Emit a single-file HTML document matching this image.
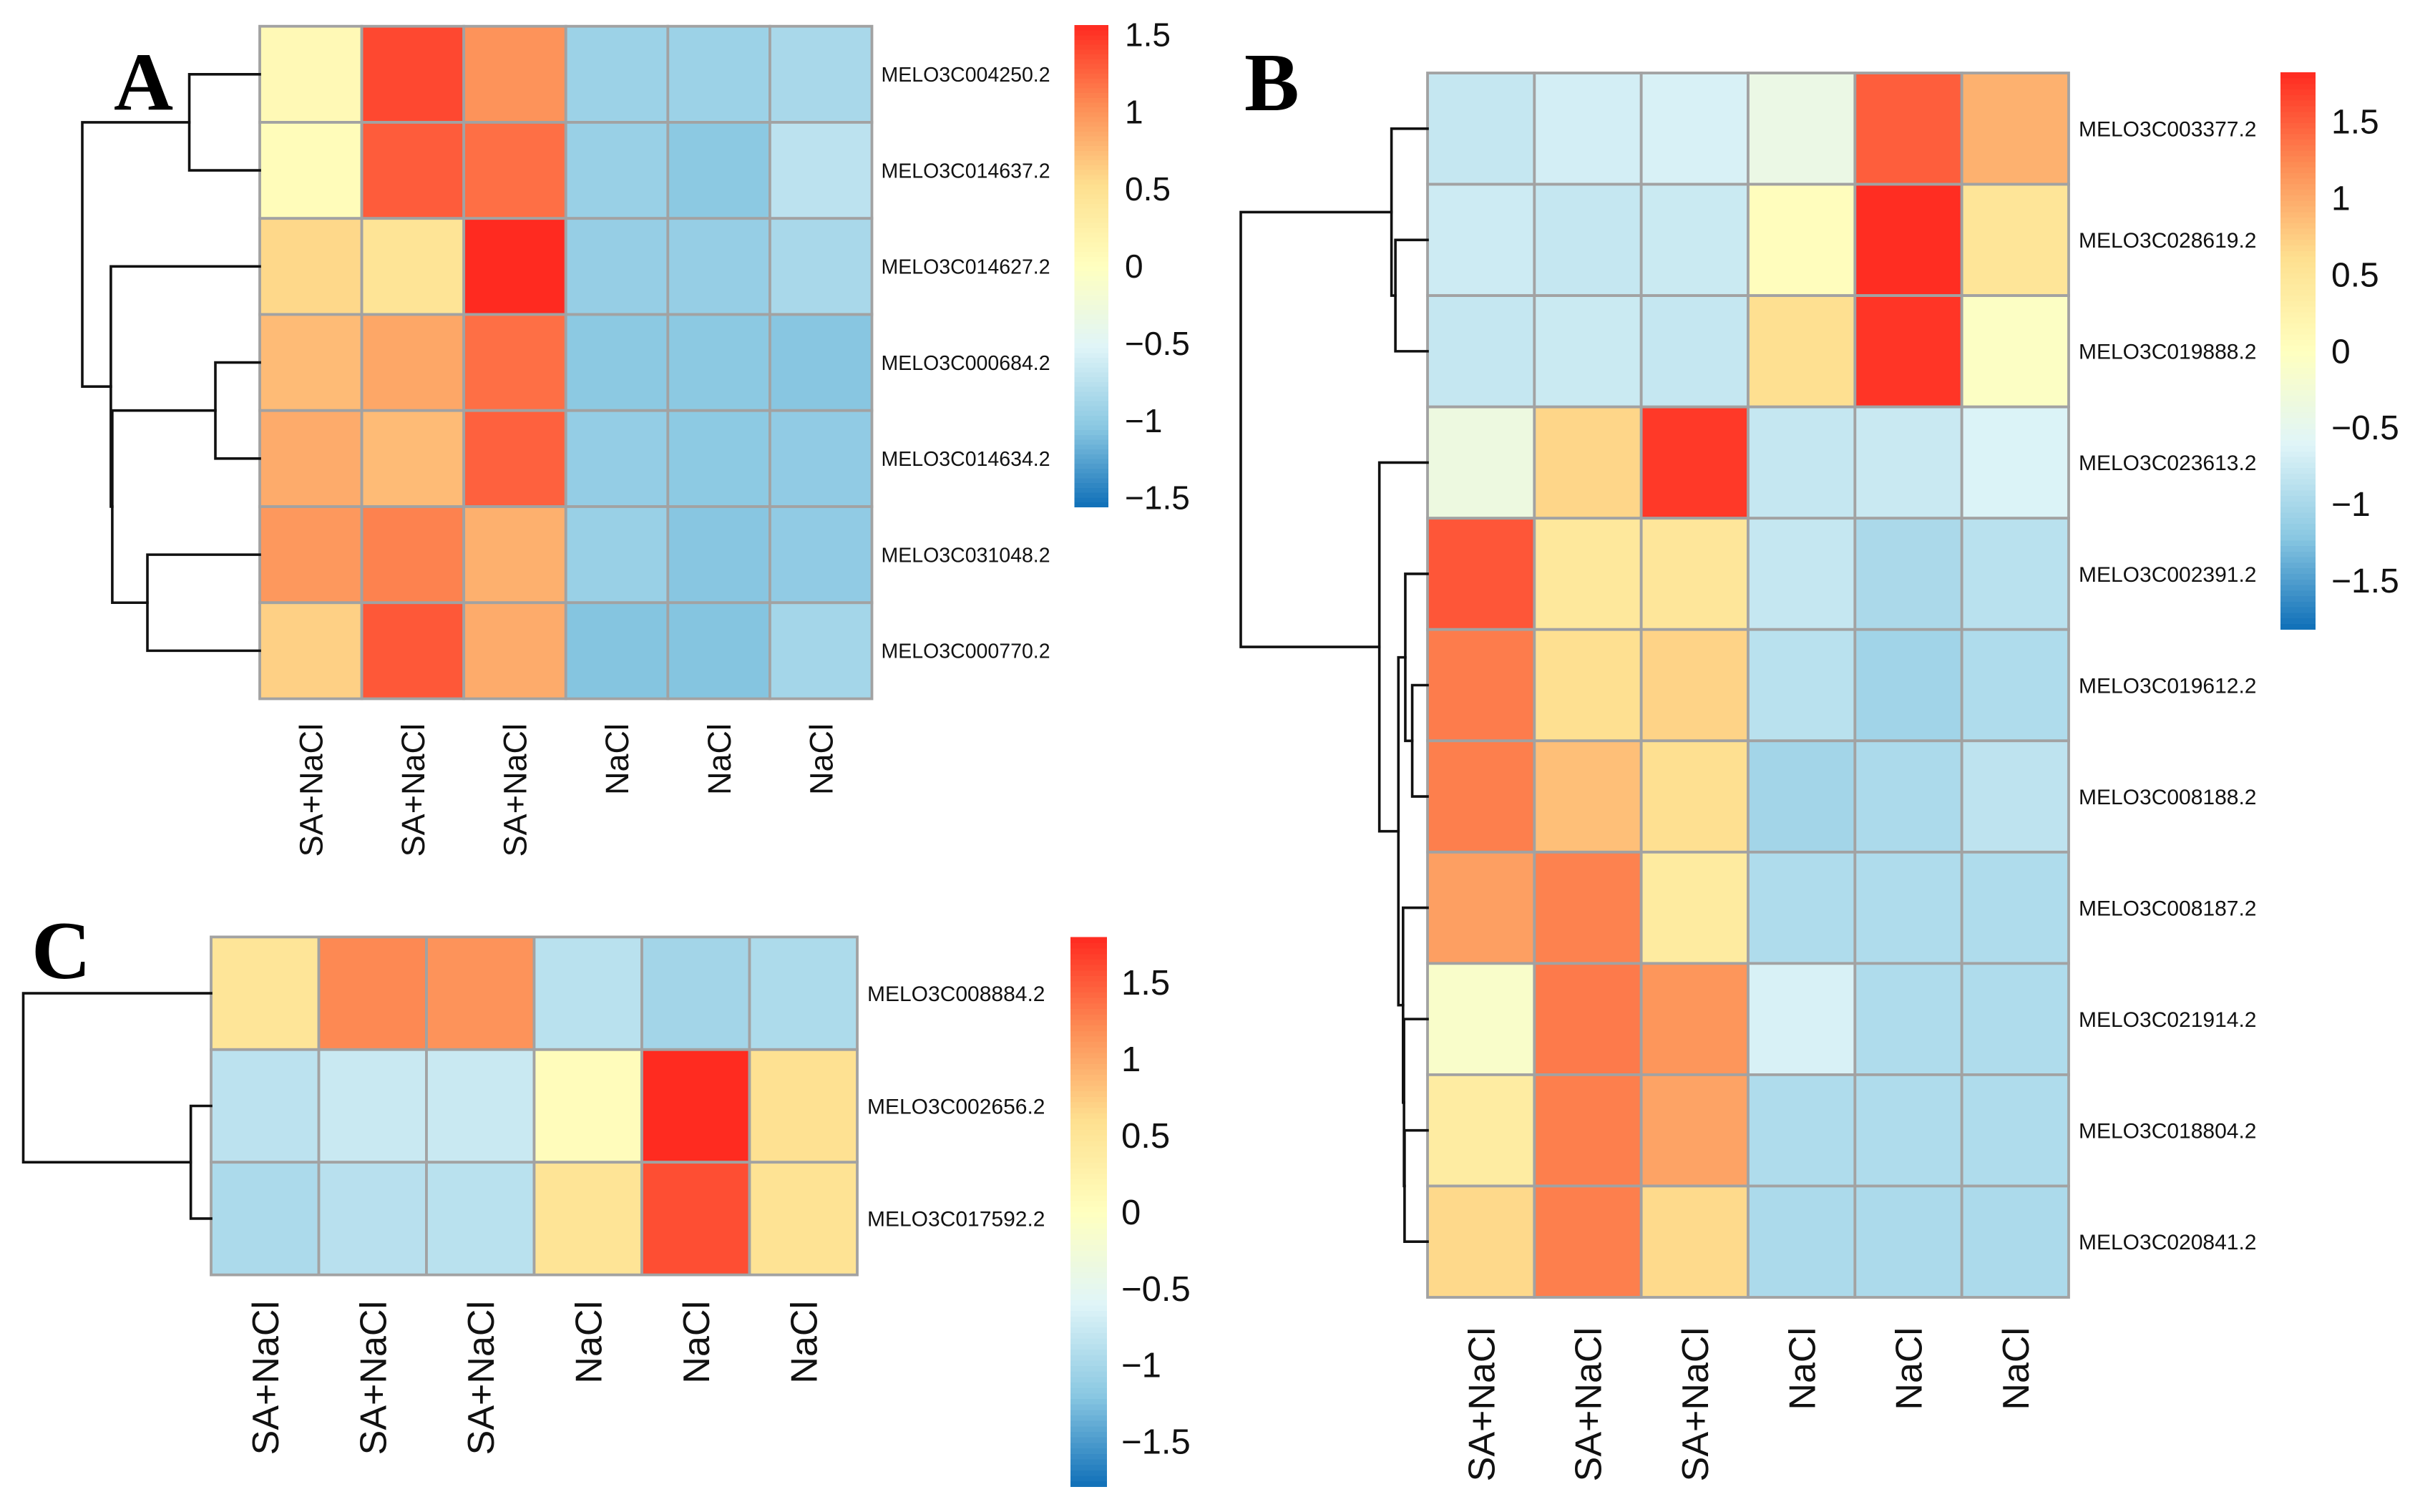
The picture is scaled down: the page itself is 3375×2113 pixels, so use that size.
<!DOCTYPE html>
<html lang="en">
<head>
<meta charset="utf-8">
<title>Heatmaps A, B and C of MELO3C genes under SA+NaCl and NaCl</title>
<style>
  html, body { margin: 0; padding: 0; background: #ffffff; }
  #figure { display: block; width: 3375px; height: 2113px; background: #ffffff; }
  text { font-family: "Liberation Sans", Arial, sans-serif; fill: #111111; }
  .panel-letter { font-family: "Liberation Serif", "Times New Roman", serif; font-weight: bold; fill: #000000; }
</style>
</head>
<body>
<svg id="figure" xmlns="http://www.w3.org/2000/svg" width="3375" height="2113" viewBox="0 0 3375 2113"></svg>
<script>
// ---- Shared data ----
const paletteColors = ['#0f6fb8', '#8ac8e2', '#e0f5f8', '#ffffbf', '#fee090', '#fd8d55', '#ff2a20'];
const legendTickValues = [-1.5, -1, -0.5, 0, 0.5, 1, 1.5];

// ---- Panel A ----
const colLabelsA = ['SA+NaCl', 'SA+NaCl', 'SA+NaCl', 'NaCl', 'NaCl', 'NaCl'];
const rowLabelsA = ['MELO3C004250.2', 'MELO3C014637.2', 'MELO3C014627.2', 'MELO3C000684.2', 'MELO3C014634.2', 'MELO3C031048.2', 'MELO3C000770.2'];
const valuesA = [
  [0.10, 1.40, 1.00, -0.93, -0.93, -0.85],
  [0.05, 1.30, 1.20, -0.95, -1.03, -0.74],
  [0.57, 0.45, 1.56, -0.97, -0.97, -0.85],
  [0.75, 0.88, 1.20, -1.03, -1.03, -1.05],
  [0.85, 0.75, 1.27, -0.98, -1.02, -1.00],
  [0.97, 1.10, 0.82, -0.95, -1.05, -1.00],
  [0.62, 1.32, 0.85, -1.06, -1.06, -0.88]
];
const mergesA = [[-1, -2, 0.397], [-4, -5, 0.25], [-6, -7, 0.633], [2, 3, 0.831], [-3, 4, 0.839], [1, 5, 1]];
const rangeA = 1.56;

// ---- Panel B ----
const colLabelsB = ['SA+NaCl', 'SA+NaCl', 'SA+NaCl', 'NaCl', 'NaCl', 'NaCl'];
const rowLabelsB = ['MELO3C003377.2', 'MELO3C028619.2', 'MELO3C019888.2', 'MELO3C023613.2', 'MELO3C002391.2', 'MELO3C019612.2', 'MELO3C008188.2', 'MELO3C008187.2', 'MELO3C021914.2', 'MELO3C018804.2', 'MELO3C020841.2'];
const valuesB = [
  [-0.80, -0.70, -0.66, -0.40, 1.50, 0.95],
  [-0.74, -0.80, -0.76, 0.03, 1.80, 0.50],
  [-0.80, -0.76, -0.80, 0.60, 1.75, -0.05],
  [-0.35, 0.68, 1.73, -0.80, -0.77, -0.64],
  [1.55, 0.45, 0.48, -0.80, -0.98, -0.88],
  [1.32, 0.60, 0.70, -0.88, -1.05, -0.95],
  [1.30, 0.85, 0.60, -1.04, -0.97, -0.85],
  [1.08, 1.28, 0.40, -0.95, -0.95, -0.95],
  [-0.12, 1.33, 1.15, -0.66, -0.95, -0.95],
  [0.38, 1.30, 1.05, -0.95, -0.95, -0.95],
  [0.66, 1.30, 0.65, -0.97, -0.97, -0.97]
];
const mergesB = [[-2, -3, 0.172], [-1, 1, 0.193], [-6, -7, 0.082], [-5, 3, 0.119], [-10, -11, 0.123], [-9, 5, 0.126], [-8, 6, 0.131], [4, 7, 0.156], [-4, 8, 0.258], [2, 9, 1]];
const rangeB = 1.82;

// ---- Panel C ----
const colLabelsC = ['SA+NaCl', 'SA+NaCl', 'SA+NaCl', 'NaCl', 'NaCl', 'NaCl'];
const rowLabelsC = ['MELO3C008884.2', 'MELO3C002656.2', 'MELO3C017592.2'];
const valuesC = [
  [0.50, 1.22, 1.15, -0.87, -1.02, -0.95],
  [-0.85, -0.76, -0.76, 0.05, 1.79, 0.57],
  [-0.96, -0.88, -0.87, 0.52, 1.58, 0.55]
];
const mergesC = [[-2, -3, 0.108], [-1, 1, 1]];
const rangeC = 1.795;

// ---- Layout (not data) ----
const layoutA = { key: 'a', letter: 'A', letterX: 159, letterY: 153, left: 363, right: 1218.5, top: 36.7, bottom: 976.5,
  rootX: 115, rowFont: 28.5, rowX: 1231.5, colFont: 45, colTop: 1011, barX: 1501.5, barW: 47.5, barTop: 35, barBottom: 708, tickX: 1572, tickFont: 46 };
const layoutB = { key: 'b', letter: 'B', letterX: 1739, letterY: 154, left: 1995, right: 2891, top: 102, bottom: 1813,
  rootX: 1734, rowFont: 30, rowX: 2905, colFont: 52, colTop: 1855, barX: 3187, barW: 49, barTop: 101, barBottom: 879, tickX: 3258, tickFont: 48 };
const layoutC = { key: 'c', letter: 'C', letterX: 44, letterY: 1367, left: 295, right: 1198, top: 1309.4, bottom: 1781.6,
  rootX: 32.5, rowFont: 30, rowX: 1212, colFont: 52, colTop: 1818, barX: 1496, barW: 51, barTop: 1309.5, barBottom: 2077, tickX: 1567, tickFont: 49 };

const SVG_NS = 'http://www.w3.org/2000/svg';
const figure = document.getElementById('figure');

function make(tag, attrs, parent) {
  const node = document.createElementNS(SVG_NS, tag);
  Object.keys(attrs).forEach(function (k) { node.setAttribute(k, attrs[k]); });
  parent.appendChild(node);
  return node;
}
function hexToRgb(h) {
  return [parseInt(h.slice(1, 3), 16), parseInt(h.slice(3, 5), 16), parseInt(h.slice(5, 7), 16)];
}
function colorScale(value, range) {
  const t = Math.max(0, Math.min(1, (value + range) / (2 * range))) * (paletteColors.length - 1);
  const i = Math.min(paletteColors.length - 2, Math.floor(t));
  const a = hexToRgb(paletteColors[i]);
  const b = hexToRgb(paletteColors[i + 1]);
  const f = t - i;
  return 'rgb(' + a.map(function (c, n) { return Math.round(c + (b[n] - c) * f); }).join(',') + ')';
}

function drawPanel(L, rowLabels, colLabels, values, merges, range) {
  const group = make('g', {}, figure);
  
  

  const cellW = (L.right - L.left) / colLabels.length;
  const cellH = (L.bottom - L.top) / rowLabels.length;
  const xOfCol = function (c) { return L.left + c * cellW; };
  const yOfRow = function (r) { return L.top + r * cellH; };
  const xOfHeight = function (h) { return L.left - h * (L.left - L.rootX); };

  // panel letter
  const letter = make('text', { x: L.letterX, y: L.letterY, 'font-size': 115, class: 'panel-letter' }, group);
  
  
  letter.textContent = L.letter;

  // heatmap cells
  values.forEach(function (row, r) {
    row.forEach(function (v, c) {
      const cell = make('rect', { x: xOfCol(c), y: yOfRow(r), width: cellW, height: cellH, fill: colorScale(v, range), stroke: '#a2a2a2', 'stroke-width': 3.8 }, group);
      
      
    });
  });

  // row labels
  rowLabels.forEach(function (label, r) {
    const t = make('text', { x: L.rowX, y: yOfRow(r + 0.5) + L.rowFont * 0.36, 'font-size': L.rowFont }, group);
    
    
    t.textContent = label;
  });

  // column labels
  colLabels.forEach(function (label, c) {
    const bx = xOfCol(c + 0.5) + L.colFont * 0.36;
    const t = make('text', { x: 0, y: 0, 'font-size': L.colFont, 'text-anchor': 'end', transform: 'translate(' + bx + ' ' + L.colTop + ') rotate(-90)' }, group);
    
    
    t.textContent = label;
  });

  // dendrogram
  const nodeY = [];
  const nodeX = [];
  const childPos = function (id) {
    if (id < 0) return { x: L.left, y: yOfRow(-id - 1 + 0.5) };
    return { x: nodeX[id - 1], y: nodeY[id - 1] };
  };
  merges.forEach(function (m, i) {
    const a = childPos(m[0]);
    const b = childPos(m[1]);
    const x = xOfHeight(m[2]);
    nodeX[i] = x;
    nodeY[i] = (a.y + b.y) / 2;
    const d = 'M' + a.x + ' ' + a.y + 'H' + x + 'V' + b.y + 'H' + b.x;
    const link = make('path', { d: d, fill: 'none', stroke: '#111111', 'stroke-width': 3.6, 'stroke-linecap': 'square' }, group);
    
    
  });

  // colour bar
  const barH = L.barBottom - L.barTop;
  const yOfValue = function (v) { return L.barTop + barH / 2 - v * barH / (2 * range); };
  const steps = 100;
  const barGroup = make('g', { 'shape-rendering': 'crispEdges' }, group);
  
  
  for (let s = 0; s < steps; s++) {
    const v0 = -range + 2 * range * s / steps;
    const v1 = -range + 2 * range * (s + 1) / steps;
    const swatch = make('rect', { x: L.barX, y: yOfValue(v1), width: L.barW, height: yOfValue(v0) - yOfValue(v1) + 0.8, fill: colorScale((v0 + v1) / 2, range) }, barGroup);
    
    
  }
  legendTickValues.forEach(function (v, i) {
    const t = make('text', { x: L.tickX, y: yOfValue(v) + L.tickFont * 0.36, 'font-size': L.tickFont }, group);
    
    
    t.textContent = (v < 0 ? '\u2212' : '') + String(Math.abs(v));
  });
}

drawPanel(layoutA, rowLabelsA, colLabelsA, valuesA, mergesA, rangeA);
drawPanel(layoutB, rowLabelsB, colLabelsB, valuesB, mergesB, rangeB);
drawPanel(layoutC, rowLabelsC, colLabelsC, valuesC, mergesC, rangeC);
</script>
</body>
</html>
